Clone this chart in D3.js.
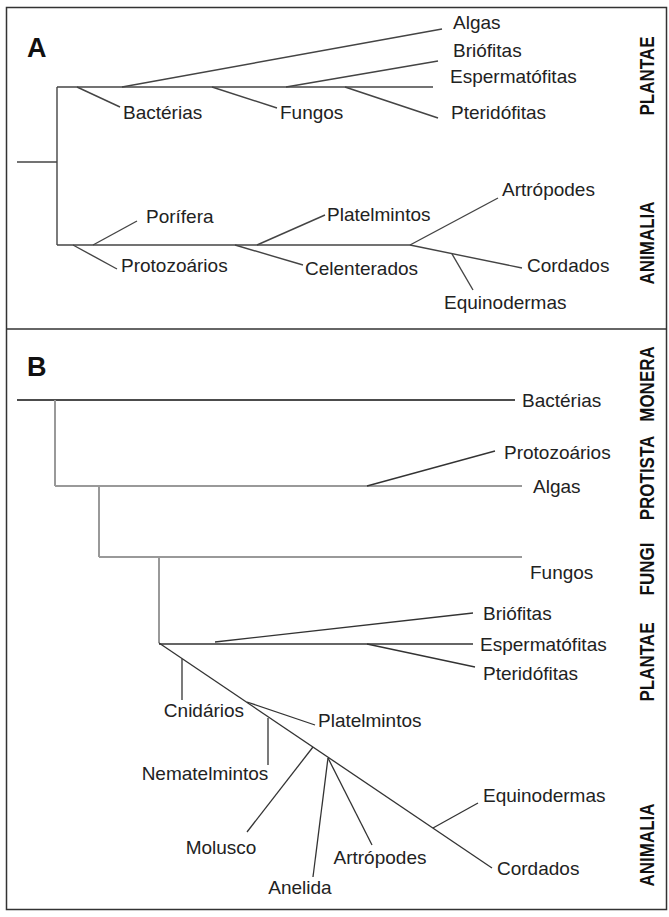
<!doctype html>
<html lang="pt">
<head>
  <meta charset="utf-8">
  <title>Árvores filogenéticas A e B</title>
  <script src="https://cdn.jsdelivr.net/npm/d3@7"></script>
  <style>
    body { margin: 0; background: #fff; }
    svg { display: block; }
    .lbl { font-family: "Liberation Sans", Arial, sans-serif; font-size: 19px; fill: #222; }
    .kingdom { font-family: "Liberation Sans", Arial, sans-serif; font-size: 20px; font-weight: bold; fill: #111; }
    .panel { font-family: "Liberation Sans", Arial, sans-serif; font-size: 27px; font-weight: bold; fill: #111; }
  </style>
</head>
<body>
<div id="container"></div>
<script>
  const W = 669, H = 917;

  // --- Panel A (units: panel-local grid) ---
  // branches: [x1, y1, x2, y2]
  const branchesA = [
    [17, 155, 57, 155],     // root
    [57, 80, 57, 238],      // fork
    [57, 80, 433, 80],      // plant stem
    [57, 238, 410, 238],    // animal stem
    [77, 80, 120, 100],     // Bactérias
    [122, 80, 442, 22],     // Algas
    [212, 80, 277, 101],    // Fungos
    [286, 80, 438, 54],     // Briófitas
    [345, 80, 438, 111],    // Pteridófitas
    [93, 238, 137, 214],    // Porífera
    [73, 238, 117, 262],    // Protozoários
    [257, 238, 325, 208],   // Platelmintos
    [235, 238, 303, 258],   // Celenterados
    [410, 238, 498, 191],   // Artrópodes
    [410, 238, 522, 261],   // Cordados
    [452, 247, 473, 283]    // Equinodermas
  ];
  const namesA = ['Algas', 'Briófitas', 'Espermatófitas', 'Pteridófitas', 'Bactérias', 'Fungos',
    'Porífera', 'Protozoários', 'Platelmintos', 'Celenterados', 'Artrópodes', 'Cordados', 'Equinodermas'];
  const labelXA = [453, 453, 450, 451, 123, 280, 146, 121, 327, 305, 502, 527, 444];
  const labelYA = [15, 43, 69, 105, 105, 105, 209, 258, 207, 261, 182, 258, 295];
  const kingdomsA = ['PLANTAE', 'ANIMALIA'];
  const kingdomYA = [69, 236];

  // --- Panel B ---
  const branchesB = [
    [17, 71, 515, 71, 'k'],      // Bactérias
    [55, 71, 55, 157, 'g'],
    [55, 157, 522, 157, 'g'],    // Algas
    [367, 157, 495, 122, 'd'],   // Protozoários
    [99, 157, 99, 228, 'g'],
    [99, 228, 522, 228, 'g'],    // Fungos
    [159, 228, 159, 314, 'g'],
    [159, 315, 473, 315, 'd'],   // Espermatófitas
    [215, 313, 473, 284, 'd'],   // Briófitas
    [367, 315, 475, 338, 'd'],   // Pteridófitas
    [159, 314, 492, 539, 'd'],   // animal stem -> Cordados
    [182, 330, 182, 371, 'd'],   // Cnidários
    [247, 373, 315, 396, 'd'],   // Platelmintos
    [268, 389, 268, 436, 'd'],   // Nematelmintos
    [313, 418, 247, 503, 'd'],   // Molusco
    [328, 429, 313, 548, 'd'],   // Anelida
    [328, 429, 372, 516, 'd'],   // Artrópodes
    [433, 499, 478, 474, 'd']    // Equinodermas
  ];
  const namesB = ['Bactérias', 'Protozoários', 'Algas', 'Fungos', 'Briófitas', 'Espermatófitas', 'Pteridófitas',
    'Equinodermas', 'Cordados', 'Platelmintos', 'Cnidários', 'Nematelmintos', 'Molusco', 'Anelida', 'Artrópodes'];
  const labelXB = [522, 504, 533, 530, 483, 480, 483, 483, 497, 318, 204, 205, 221, 300, 380];
  const labelYB = [71, 123, 157, 243, 284, 315, 344, 466, 539, 391, 381, 444, 518, 558, 528];
  const anchorB = ['start', 'start', 'start', 'start', 'start', 'start', 'start', 'start', 'start', 'start',
    'middle', 'middle', 'middle', 'middle', 'middle'];
  const kingdomsB = ['MONERA', 'PROTISTA', 'FUNGI', 'PLANTAE', 'ANIMALIA'];
  const kingdomYB = [55, 149, 240, 333, 516];

  const strokeB = { k: '#111', g: '#999', d: '#333' };
  const widthB = { k: 1.5, g: 2, d: 1.3 };

  const svg = d3.select('#container')
    .append('svg')
    .attr('width', W)
    .attr('height', H);

  const x = d3.scaleLinear().domain([0, W]).range([0, W]);
  const yA = d3.scaleLinear().domain([0, 322]).range([7, 329]);
  const yB = d3.scaleLinear().domain([0, 581]).range([329, 910]);

  // frame
  svg.append('rect')
    .attr('x', 6.5).attr('y', 7.5)
    .attr('width', 660).attr('height', 902)
    .style('fill', 'none').style('stroke', '#333').style('stroke-width', 1.5);
  svg.append('line')
    .attr('x1', 6).attr('x2', 667)
    .attr('y1', yA(322)).attr('y2', yA(322))
    .style('stroke', '#333').style('stroke-width', 1.5);

  function drawPanel(g, branches, ys, names, lx, ly, anchors, kings, ky, letter, letterY) {
    g.selectAll('line.br')
      .data(branches)
      .enter()
      .append('line')
      .attr('class', 'br')
      .attr('x1', d => x(d[0])).attr('y1', d => ys(d[1]))
      .attr('x2', d => x(d[2])).attr('y2', d => ys(d[3]))
      .style('stroke', d => d[4] ? strokeB[d[4]] : '#444')
      .style('stroke-width', d => d[4] ? widthB[d[4]] : 1.4);

    g.selectAll('text.lbl')
      .data(names)
      .enter()
      .append('text')
      .attr('class', 'lbl')
      .attr('x', (d, i) => x(lx[i]))
      .attr('y', (d, i) => ys(ly[i]))
      .attr('dy', '0.35em')
      .attr('text-anchor', (d, i) => anchors ? anchors[i] : 'start')
      .text(d => d);

    // rotated kingdom names, squeezed along the reading direction
    g.selectAll('text.kingdom')
      .data(kings)
      .enter()
      .append('text')
      .attr('class', 'kingdom')
      .attr('text-anchor', 'middle')
      .attr('dy', '0.35em')
      .attr('transform', (d, i) => `translate(${x(647)},${ys(ky[i])})rotate(-90)scale(0.85,1)`)
      .text(d => d);

    g.append('text')
      .attr('class', 'panel')
      .attr('x', x(27))
      .attr('y', ys(letterY))
      .attr('dy', '0.35em')
      .text(letter);
  }

  drawPanel(svg.append('g'), branchesA, yA, namesA, labelXA, labelYA, null, kingdomsA, kingdomYA, 'A', 41);
  drawPanel(svg.append('g'), branchesB, yB, namesB, labelXB, labelYB, anchorB, kingdomsB, kingdomYB, 'B', 38);
</script>
</body>
</html>
